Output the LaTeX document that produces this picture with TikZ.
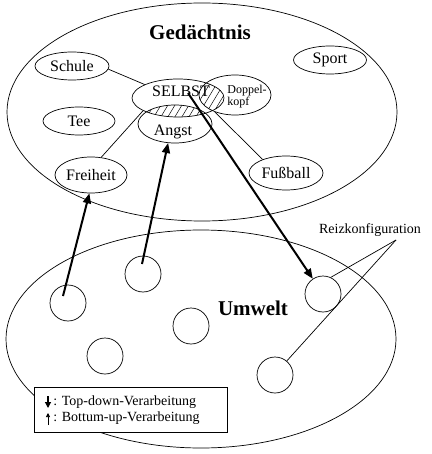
\documentclass[tikz,border=0pt]{standalone}
\usepackage{fontspec}
\setmainfont{Liberation Serif}
\usetikzlibrary{shapes.geometric,arrows.meta}
\newcommand{\conceptfont}{\fontsize{16}{16}\selectfont}
\newcommand{\titlefont}{\fontsize{21}{21}\selectfont\bfseries}
\newcommand{\notefont}{\fontsize{14}{14}\selectfont}
\tikzset{
  concept/.style={draw, ellipse, inner sep=0pt, minimum width=74pt, minimum height=28pt, font=\conceptfont},
  stimulus/.style={draw, circle, inner sep=0pt, minimum size=36pt},
  region/.style={draw, ellipse, inner sep=0pt, minimum width=390pt, minimum height=218pt},
  hatch/.style={line width=0.5pt},
  process/.style={line width=2pt, -{Triangle[length=10pt, width=8pt]}}
}

\begin{document}
\begin{tikzpicture}[x=1pt, y=-1pt, line width=0.7pt]
  \useasboundingbox (0,0) rectangle (431,454);

  \node [region] (gedaechtnis) at (202,112) {};
  \node [region] (umwelt) at (201,339) {};
  \node [font=\titlefont] (gedtitle) at (200,32) {Gedächtnis};
  \node [font=\titlefont] (umwelttitle) at (253,308) {Umwelt};

  % memory concepts
  \node [concept] (schule) at (72,66) {Schule};
  \node [concept, minimum width=73pt] (sport) at (330,60) {Sport};
  \node [concept, minimum width=72pt] (tee) at (79,121) {Tee};
  \node [concept, minimum width=92pt, minimum height=38pt] (selbst) at (178,98) {};
  \node [concept, minimum width=72pt, minimum height=40pt] (doppelkopf) at (235,95) {};
  \node [concept, minimum height=38pt] (angst) at (175,124) {};
  \node [concept, minimum width=72pt, minimum height=36pt] (freiheit) at (91,175) {Freiheit};
  \node [concept, minimum height=34pt] (fussball) at (286,173) {Fußball};
  \node [font=\conceptfont] (selbsttext) at (181,91) {SELBST};
  \node [font=\fontsize{12}{9}\selectfont, align=left, inner sep=0pt] (doppeltext) at (247,97) {Doppel-\\kopf};
  \node [font=\conceptfont] (angsttext) at (173,132) {Angst};

  \begin{scope}
    \clip (selbst) ellipse [x radius=46, y radius=19];
    \clip (doppelkopf) ellipse [x radius=36, y radius=20];
    \foreach \h in {150,157,...,260} \draw [hatch] (\h,125) -- ++(30,-50);
  \end{scope}
  \begin{scope}
    \clip (selbst) ellipse [x radius=46, y radius=19];
    \clip (angst) ellipse [x radius=37, y radius=19];
    \foreach \h in {100,107,...,230} \draw [hatch] (\h,125) -- ++(30,-50);
  \end{scope}

  \draw (schule.-5) -- (selbst.158);
  \draw (freiheit.60) -- (selbst.200);
  \draw (doppelkopf.220) -- (fussball.150);

  % environment
  \node [stimulus] (reiz1) at (68,303) {};
  \node [stimulus] (reiz2) at (143,274) {};
  \node [stimulus] (reiz3) at (323,294) {};
  \node [stimulus] (reiz4) at (191,326) {};
  \node [stimulus] (reiz5) at (105,356) {};
  \node [stimulus] (reiz6) at (275,375) {};

  \node [font=\notefont] (reiztext) at (370,230) {Reizkonfiguration};
  \coordinate (reizfork) at (396,240);
  \draw (reizfork) -- (reiz3.65);
  \draw (reizfork) -- (reiz6.50);

  \coordinate (selbstcore) at (188,93);
  \coordinate (reiz1core) at (63,296);
  \coordinate (reiz2core) at (142,264);
  \draw [process] (selbstcore) -- (reiz3);
  \draw [process] (reiz1core) -- (freiheit.265);
  \draw [process] (reiz2core) -- (angst.250);

  % legend
  \node [draw, fill=white, inner sep=0pt, minimum width=193pt, minimum height=45pt] (legend) at (130.5,409.5) {};
  \node [font=\notefont, anchor=west, inner sep=0pt] (topdown) at (53,402) {: Top-down-Verarbeitung};
  \node [font=\notefont, anchor=west, inner sep=0pt] (bottomup) at (53,418) {: Bottum-up-Verarbeitung};
  \draw [line width=1.2pt, -{Triangle[length=6pt, width=6pt]}] (topdown.west) ++(-5,-6) -- ++(0,12);
  \draw [-{Triangle[length=4pt, width=4pt]}] (bottomup.west) ++(-5,7) -- ++(0,-12);
\end{tikzpicture}
\end{document}
